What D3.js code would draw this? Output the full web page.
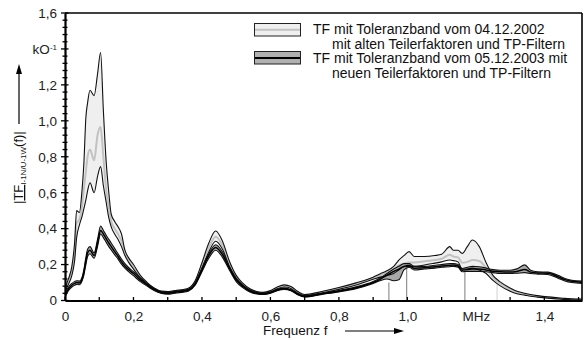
<!DOCTYPE html>
<html><head><meta charset="utf-8">
<script src="https://cdn.jsdelivr.net/npm/d3@7/dist/d3.min.js"></script>
<style>
html,body{margin:0;padding:0;background:#fff;}
svg{display:block;font-family:"Liberation Sans",Arial,sans-serif;}
</style></head>
<body>
<svg id="chart" width="584" height="340"></svg>
<script>
// frequency grid (MHz)
const freq = [0,0.01,0.02,0.028,0.034,0.042,0.05,0.055,0.061,0.066,
  0.073,0.085,0.095,0.104,0.112,0.12,0.128,0.135,0.145,0.155,
  0.165,0.175,0.185,0.2,0.22,0.24,0.26,0.28,0.30,0.32,
  0.34,0.36,0.38,0.40,0.42,0.44,0.46,0.48,0.50,0.52,
  0.54,0.56,0.58,0.60,0.62,0.64,0.66,0.68,0.70,0.75,
  0.80,0.85,0.90,0.92,0.94,0.96,0.975,0.99,1.005,1.02,
  1.05,1.08,1.10,1.124,1.134,1.148,1.16,1.175,1.19,1.21,
  1.23,1.25,1.27,1.30,1.32,1.343,1.36,1.38,1.41,1.44,
  1.46,1.48,1.51];

// TF 04.12.2002 (old) : upper, mean, lower
const old_upper = [.07,.12,.19,.32,.50,.49,.62,.76,1.02,1.10,
  1.17,1.14,1.26,1.38,1.06,.78,.60,.48,.44,.41,
  .37,.28,.24,.20,.14,.10,.07,.052,.05,.055,
  .06,.068,.11,.21,.32,.387,.33,.22,.14,.095,
  .065,.05,.045,.055,.075,.087,.078,.05,.033,.05,
  .072,.098,.13,.148,.165,.19,.225,.25,.272,.245,
  .245,.25,.257,.30,.28,.28,.262,.30,.337,.30,
  .21,.14,.105,.07,.052,.04,.033,.027,.02,.015,
  .012,.01,.008];
const old_mean = [.06,.10,.16,.26,.43,.45,.53,.62,.72,.80,
  .84,.78,.92,.965,.80,.62,.52,.44,.40,.37,
  .33,.265,.225,.185,.13,.093,.066,.05,.048,.052,
  .057,.064,.10,.195,.295,.355,.305,.205,.13,.088,
  .06,.047,.043,.051,.07,.081,.073,.046,.03,.047,
  .067,.092,.125,.14,.155,.175,.195,.205,.212,.212,
  .218,.225,.232,.255,.245,.24,.21,.215,.225,.22,
  .18,.128,.095,.062,.046,.035,.029,.024,.017,.012,
  .009,.007,.005];
const old_lower = [.05,.09,.14,.22,.35,.42,.47,.51,.56,.61,
  .655,.60,.69,.745,.64,.55,.46,.41,.37,.34,
  .30,.25,.215,.175,.125,.088,.062,.047,.045,.05,
  .054,.06,.095,.18,.27,.33,.285,.19,.12,.082,
  .056,.044,.04,.047,.065,.075,.067,.041,.027,.042,
  .062,.086,.118,.13,.14,.15,.17,.188,.19,.19,
  .198,.208,.215,.225,.222,.215,.175,.175,.18,.17,
  .15,.112,.083,.052,.038,.03,.024,.019,.013,.009,
  .006,.004,.003];

// TF 05.12.2003 (new) : upper, mean, lower
const new_upper = [.04,.075,.095,.105,.11,.108,.13,.17,.24,.285,
  .30,.265,.34,.415,.39,.365,.34,.32,.29,.26,
  .23,.205,.185,.16,.125,.095,.068,.05,.045,.05,
  .055,.062,.10,.18,.26,.31,.27,.19,.125,.085,
  .058,.045,.04,.047,.062,.069,.06,.038,.025,.04,
  .056,.076,.106,.125,.15,.175,.19,.205,.205,.19,
  .19,.196,.20,.206,.206,.20,.178,.185,.19,.188,
  .18,.172,.168,.168,.176,.198,.168,.16,.158,.14,
  .123,.113,.108];
const new_mean = [.03,.065,.085,.095,.10,.098,.12,.155,.22,.265,
  .28,.25,.32,.39,.37,.345,.32,.30,.272,.245,
  .215,.192,.173,.15,.115,.087,.062,.045,.04,.045,
  .05,.057,.09,.17,.25,.295,.255,.18,.115,.078,
  .052,.04,.036,.043,.058,.065,.057,.035,.022,.037,
  .052,.071,.10,.118,.14,.162,.175,.19,.195,.18,
  .182,.188,.192,.196,.197,.192,.168,.172,.176,.175,
  .17,.163,.16,.158,.162,.172,.158,.153,.152,.132,
  .116,.107,.102];
const new_lower = [.02,.055,.075,.085,.09,.088,.11,.14,.20,.245,
  .26,.235,.30,.37,.35,.325,.30,.282,.255,.23,
  .202,.18,.162,.138,.105,.08,.056,.04,.035,.04,
  .045,.052,.085,.16,.235,.28,.24,.17,.105,.07,
  .047,.036,.033,.04,.055,.062,.054,.032,.02,.034,
  .048,.066,.095,.11,.12,.11,.115,.17,.185,.17,
  .175,.18,.185,.188,.19,.185,.16,.162,.162,.162,
  .16,.155,.15,.15,.152,.155,.15,.147,.145,.124,
  .109,.10,.095];

// thin marker lines (frequency, top value)
const markerFreq = [0.946, 0.998, 1.168, 1.262];
const markerTop  = [0.10, 0.19, 0.165, 0.12];

const yTicks = [0,0.2,0.4,0.6,0.8,1.0,1.2,1.4,1.6];
const yTickLabels = ["0","0,2","0,4","0,6","0,8","1,0","1,2","kO","1,6"];
const xTicks = [0,0.2,0.4,0.6,0.8,1.0,1.2,1.4];
const xTickLabels = ["0","0,2","0,4","0,6","0,8","1,0","MHz","1,4"];
const legendLines = ["TF mit Toleranzband vom 04.12.2002","mit alten Teilerfaktoren und TP-Filtern",
  "TF mit Toleranzband vom 05.12.2003 mit","neuen Teilerfaktoren und TP-Filtern"];

const svg = d3.select("#chart");
const L = 65, R = 582, T = 13, B = 300.5;
const x = d3.scaleLinear().domain([0,1.51]).range([L,R]);
const y = d3.scaleLinear().domain([0,1.6]).range([B,T]);

const rows = freq.map((f,i)=>({f, ou:old_upper[i], om:old_mean[i], ol:old_lower[i],
  nu:new_upper[i], nm:new_mean[i], nl:new_lower[i]}));
const curve = d3.curveMonotoneX;
const area = (lo,hi)=>d3.area().curve(curve).x(d=>x(d.f)).y0(d=>y(d[lo])).y1(d=>y(d[hi]));
const line = (k)=>d3.line().curve(curve).x(d=>x(d.f)).y(d=>y(d[k]));

const g = svg.append("g");
// marker lines
g.selectAll("line.mk").data(markerFreq).join("line")
  .attr("x1",d=>x(d)).attr("x2",d=>x(d))
  .attr("y1",(d,i)=>y(markerTop[i])).attr("y2",y(0))
  .attr("stroke",(d,i)=>i===3?"#bbb":"#444").attr("stroke-width",0.7);

g.append("path").datum(rows).attr("d",area("ol","ou")).attr("fill","#efefef");
g.append("path").datum(rows).attr("d",area("nl","nu")).attr("fill","#a9a9a9");
g.append("path").datum(rows).attr("d",line("om")).attr("fill","none").attr("stroke","#c2c2c2").attr("stroke-width",2);
["ou","ol"].forEach(k=>g.append("path").datum(rows).attr("d",line(k)).attr("fill","none").attr("stroke","#111").attr("stroke-width",1.1));
["nu","nl"].forEach(k=>g.append("path").datum(rows).attr("d",line(k)).attr("fill","none").attr("stroke","#111").attr("stroke-width",1.1));
g.append("path").datum(rows).attr("d",line("nm")).attr("fill","none").attr("stroke","#000").attr("stroke-width",1.5);

// frame
svg.append("line").attr("x1",L).attr("x2",R).attr("y1",T).attr("y2",T).attr("stroke","#000").attr("stroke-width",1.6);
svg.append("line").attr("x1",R).attr("x2",R).attr("y1",T).attr("y2",B).attr("stroke","#000").attr("stroke-width",1.6);

// y axis
const yAxis = d3.axisLeft(y).tickValues(yTicks).tickSize(0).tickFormat((d,i)=>yTickLabels[i]);
const ya = svg.append("g").attr("transform",`translate(${L},0)`).call(yAxis);
ya.select(".domain").attr("stroke","#000").attr("stroke-width",2.2);
ya.selectAll(".tick text").attr("x",-8).attr("font-size",13.5).attr("fill","#222")
  .attr("font-family","Liberation Sans, Arial, sans-serif");
ya.selectAll(".tick").filter((d,i)=>i===7).select("text").append("tspan")
  .attr("dy","-0.45em").attr("font-size",8).text("-1");
const yMinor = d3.range(0,1.6001,0.04);
svg.append("g").selectAll("line").data(yMinor).join("line")
  .attr("x1",(d)=>Math.abs(d*5-Math.round(d*5))<1e-6?L-4:L-2.5)
  .attr("x2",(d)=>Math.abs(d*5-Math.round(d*5))<1e-6?L+3.5:L+2.5)
  .attr("y1",d=>y(d)).attr("y2",d=>y(d)).attr("stroke","#000").attr("stroke-width",1.3);

// x axis
const xAxis = d3.axisBottom(x).tickValues(xTicks).tickSize(0).tickPadding(0).tickFormat((d,i)=>xTickLabels[i]);
const xa = svg.append("g").attr("transform",`translate(0,${B})`).call(xAxis);
xa.select(".domain").attr("stroke","#000").attr("stroke-width",2.2);
xa.selectAll(".tick text").attr("y",10.5).attr("font-size",13.5).attr("fill","#222")
  .attr("font-family","Liberation Sans, Arial, sans-serif");
const xMinor = d3.range(0,1.501,0.1);
svg.append("g").selectAll("line").data(xMinor).join("line")
  .attr("x1",d=>x(d)).attr("x2",d=>x(d)).attr("y1",B).attr("y2",B-3.5)
  .attr("stroke","#000").attr("stroke-width",1.3);

// axis titles
const yt = svg.append("text").attr("transform","translate(23,204) rotate(-90)")
  .attr("font-size",13).attr("fill","#111");
yt.append("tspan").text("|");
yt.append("tspan").attr("text-decoration","underline").text("TF");
yt.append("tspan").attr("font-size",8).attr("dy","3").text("I-1N/U-1W");
yt.append("tspan").attr("dy","-3").text("(f)|");
svg.append("line").attr("x1",19).attr("x2",19).attr("y1",124).attr("y2",72).attr("stroke","#000").attr("stroke-width",1.2);
svg.append("path").attr("d","M19,64 L16,74 L22,74 Z").attr("fill","#000");

svg.append("text").attr("x",263).attr("y",335).attr("font-size",13.5).attr("fill","#111").text("Frequenz f");
svg.append("line").attr("x1",345).attr("x2",396).attr("y1",331).attr("y2",331).attr("stroke","#000").attr("stroke-width",1.2);
svg.append("path").attr("d","M404,331 L394,328 L394,334 Z").attr("fill","#000");

// legend
const lg = svg.append("g");
lg.append("rect").attr("x",254.5).attr("y",23.5).attr("width",46).attr("height",12.5).attr("fill","#efefef").attr("stroke","#222").attr("stroke-width",1);
lg.append("line").attr("x1",255).attr("x2",300).attr("y1",29.7).attr("y2",29.7).attr("stroke","#c2c2c2").attr("stroke-width",2);
lg.append("rect").attr("x",254.5).attr("y",51.5).attr("width",46).attr("height",12.5).attr("fill","#b0b0b0").attr("stroke","#222").attr("stroke-width",1);
lg.append("line").attr("x1",255).attr("x2",300).attr("y1",58).attr("y2",58).attr("stroke","#000").attr("stroke-width",2);
const lx = [313,332,313,332], ly = [33.5,48.5,63,77.5];
lg.selectAll("text").data(legendLines).join("text")
  .attr("x",(d,i)=>lx[i]).attr("y",(d,i)=>ly[i]).attr("font-size",14).attr("fill","#111").text(d=>d);
</script>
</body></html>
